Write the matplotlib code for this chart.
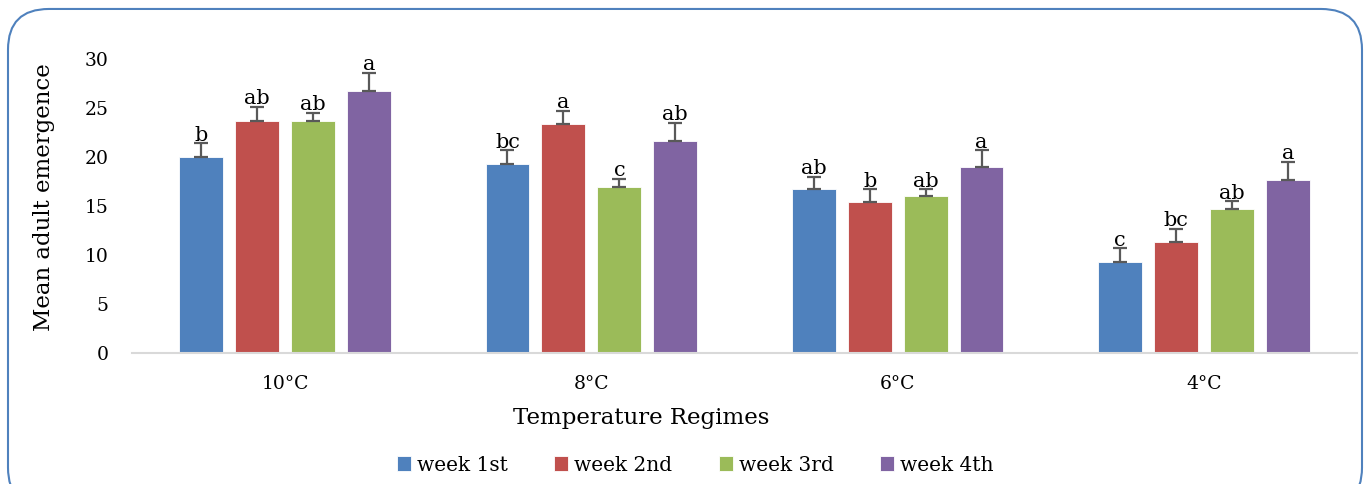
import numpy as np
import matplotlib
matplotlib.use("Agg")
import matplotlib.pyplot as plt
from matplotlib.patches import FancyBboxPatch

plt.rcParams['font.family'] = ['DejaVu Serif']

regimes = ["10°C", "8°C", "6°C", "4°C"]
weeks = ["week 1st", "week 2nd", "week 3rd", "week 4th"]
colors = ["#4F81BD", "#C0504D", "#9BBB59", "#8064A2"]

week1 = [20.0, 19.3, 16.7, 9.3]
week2 = [23.7, 23.4, 15.4, 11.3]
week3 = [23.7, 16.9, 16.0, 14.7]
week4 = [26.7, 21.6, 19.0, 17.7]

err1 = [1.4, 1.4, 1.3, 1.4]
err2 = [1.4, 1.3, 1.3, 1.4]
err3 = [0.8, 0.9, 0.7, 0.8]
err4 = [1.9, 1.9, 1.7, 1.8]

letters1 = ["b", "bc", "ab", "c"]
letters2 = ["ab", "a", "b", "bc"]
letters3 = ["ab", "c", "ab", "ab"]
letters4 = ["a", "ab", "a", "a"]

values = [week1, week2, week3, week4]
errors = [err1, err2, err3, err4]
letters = [letters1, letters2, letters3, letters4]

fig = plt.figure(figsize=(13.66, 4.84), dpi=100)
ax = fig.add_axes([132 / 1366, 0.2707, 1225 / 1366, 0.6074])

x = np.arange(len(regimes))
pitch = 0.1826
width = 0.1435
for i in range(4):
    pos = x + (i - 1.5) * pitch
    ax.bar(pos, values[i], width, color=colors[i], edgecolor="white", linewidth=0.6,
           label=weeks[i], zorder=2)
    ax.errorbar(pos, values[i], yerr=[np.zeros(4), errors[i]], fmt="none",
                ecolor="#595959", elinewidth=1.6, capsize=5, capthick=1.6, zorder=3)
    for p, v, e, t in zip(pos, values[i], errors[i], letters[i]):
        ax.text(p, v + e - 0.15, t, ha="center", va="bottom", fontsize=15)

ax.set_xlim(-0.5, 3.5)
ax.set_ylim(0, 30)
ax.set_yticks(range(0, 31, 5))
ax.set_xticks(x)
ax.set_xticklabels(regimes)
ax.tick_params(axis="both", length=0, labelsize=13.5)
ax.tick_params(axis="x", pad=16)
ax.tick_params(axis="y", pad=17)
for s in ["top", "right", "left"]:
    ax.spines[s].set_visible(False)
ax.spines["bottom"].set_color("#D9D9D9")
ax.spines["bottom"].set_linewidth(1.5)

ax.set_ylabel("Mean adult emergence", fontsize=16.5, labelpad=21, y=0.53)
ax.set_xlabel("Temperature Regimes", fontsize=16.5, labelpad=10, x=0.4155)

fig.legend(loc="lower center", bbox_to_anchor=(0.509, -0.018), ncol=4, frameon=False,
           fontsize=14.5, handlelength=0.7, handleheight=0.7, handletextpad=0.3,
           columnspacing=2.3)

border = FancyBboxPatch((8 / 1366, -0.05), 1354 / 1366, (484 - 8) / 484 + 0.05 - 0.002,
                        boxstyle="round,pad=0,rounding_size=0.03",
                        transform=fig.transFigure, facecolor="none",
                        edgecolor="#4F81BD", linewidth=1.5, mutation_aspect=2.8)
fig.patches.append(border)

fig.savefig("out.png", dpi=100)
